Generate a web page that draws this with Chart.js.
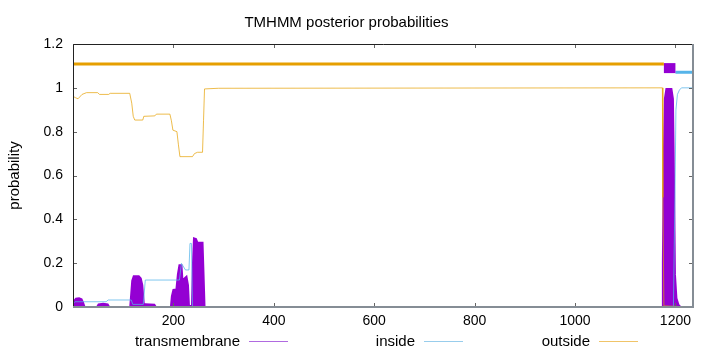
<!DOCTYPE html>
<html lang="en">
<head>
    <meta charset="UTF-8">
    <title>TMHMM posterior probabilities</title>
    <script src="https://cdn.jsdelivr.net/npm/chart.js"></script>
    <style>
        body { margin: 0; background: #fff; }
    </style>
</head>
<body>
    <canvas id="tmhmm" width="720" height="352"></canvas>

    <script>
        // posterior probabilities (residue position -> probability)
        const tmX = [1, 3, 6, 12, 17, 20, 23, 48, 51, 60, 69, 72, 114, 116, 118, 121, 131, 135, 138, 141,
                     144, 162, 165, 195, 197, 200, 206, 209, 212, 216, 218, 222, 226, 229, 231, 237, 239, 241, 245, 248,
                     258, 260, 262, 1174, 1175, 1177, 1179, 1182, 1192, 1195, 1197, 1199, 1202, 1206, 1210, 1235];
        const tmY = [0.01, 0.03, 0.038, 0.04, 0.035, 0.02, 0, 0, 0.012, 0.015, 0.012, 0, 0, 0.06, 0.12, 0.14, 0.14, 0.13, 0.1, 0.015,
                     0.012, 0.01, 0, 0, 0.05, 0.078, 0.08, 0.15, 0.19, 0.19, 0.123, 0.13, 0.138, 0.1, 0.005, 0.005, 0.2, 0.313, 0.31, 0.293,
                     0.293, 0.15, 0, 0, 0.2, 0.7, 0.95, 0.995, 0.995, 0.95, 0.6, 0.15, 0.04, 0.01, 0, 0];

        const insideX = [1, 4, 66, 70, 116, 119, 140, 144, 212, 216, 224, 231, 233, 236, 238, 1196, 1199, 1201, 1204, 1208, 1212, 1235];
        const insideY = [0.017, 0.024, 0.024, 0.032, 0.032, 0.012, 0.012, 0.123, 0.123, 0.199, 0.169, 0.169, 0.29, 0.29, 0, 0, 0.5, 0.9, 0.97, 0.99, 1, 1];

        const outsideX = [1, 5, 10, 18, 27, 49, 53, 71, 74, 113, 117, 120, 123, 139, 141, 163, 166, 193, 196, 199,
                          207, 210, 213, 238, 242, 248, 258, 260, 262, 290, 1174, 1175, 1177, 1235];
        const outsideY = [0.96, 0.955, 0.95, 0.97, 0.978, 0.978, 0.97, 0.97, 0.975, 0.975, 0.93, 0.87, 0.853, 0.853, 0.87, 0.872, 0.88, 0.88, 0.85, 0.807,
                          0.8, 0.74, 0.686, 0.686, 0.7, 0.706, 0.706, 0.85, 0.995, 0.998, 1, 0.5, 0.005, 0];

        // predicted topology bar along the top
        const topOutsideX = [1, 1177];
        const topTmX = [1177, 1200];
        const topInsideX = [1200, 1235];
        const topLevels = [1.109, 1.09, 1.071]; // outside, tm, inside

        const xTicks = [200, 400, 600, 800, 1000, 1200];
        const yTicks = [0, 0.2, 0.4, 0.6, 0.8, 1, 1.2];

        const seriesNames = ['transmembrane', 'inside', 'outside'];
        const legendColors = ['#b06ae0', '#98cdec', '#f0c468'];

        const FONT = '"Liberation Sans", Arial, sans-serif';

        const pts = (xs, ys) => xs.map((x, i) => ({ x: x, y: ys[i] }));
        const flat = (xs, y) => xs.map(x => ({ x: x, y: y }));

        // gnuplot-like frame with inward ticks
        const framePlugin = {
            id: 'frame',
            afterDraw(chart) {
                const ctx = chart.ctx;
                const a = chart.chartArea;
                const x = chart.scales.x, y = chart.scales.y;
                ctx.save();
                ctx.lineWidth = 1;
                ctx.strokeStyle = '#666';
                ctx.beginPath();
                xTicks.forEach(v => {
                    const px = Math.round(x.getPixelForValue(v)) + 0.5;
                    ctx.moveTo(px, a.bottom); ctx.lineTo(px, a.bottom - 4);
                    ctx.moveTo(px, a.top); ctx.lineTo(px, a.top + 4);
                });
                yTicks.forEach(v => {
                    const py = Math.round(y.getPixelForValue(v)) + 0.5;
                    ctx.moveTo(a.left, py); ctx.lineTo(a.left + 4, py);
                    ctx.moveTo(a.right, py); ctx.lineTo(a.right - 4, py);
                });
                ctx.stroke();

                ctx.strokeStyle = '#222';
                ctx.beginPath();
                ctx.moveTo(Math.round(a.left) + 0.5, a.bottom);
                ctx.lineTo(Math.round(a.left) + 0.5, Math.round(a.top) + 0.5);
                ctx.lineTo(a.right, Math.round(a.top) + 0.5);
                ctx.stroke();

                ctx.strokeStyle = '#858d95';
                ctx.lineWidth = 2;
                ctx.beginPath();
                ctx.moveTo(a.left, a.bottom);
                ctx.lineTo(a.right, a.bottom);
                ctx.lineTo(a.right, a.top);
                ctx.stroke();
                ctx.restore();
            }
        };

        // gnuplot-style key below the axis: label first, then the line sample
        const keyPlugin = {
            id: 'key',
            afterDraw(chart) {
                const ctx = chart.ctx;
                const col = 175, first = 240, gap = 9, len = 39, ky = 341.5;
                ctx.save();
                ctx.font = '15px ' + FONT;
                ctx.fillStyle = '#000';
                ctx.textAlign = 'right';
                ctx.textBaseline = 'middle';
                ctx.lineWidth = 1;
                seriesNames.forEach((name, i) => {
                    const tx = first + col * i;
                    ctx.fillText(name, tx, ky);
                    ctx.strokeStyle = legendColors[i];
                    ctx.beginPath();
                    ctx.moveTo(tx + gap, ky);
                    ctx.lineTo(tx + gap + len, ky);
                    ctx.stroke();
                });
                ctx.restore();
            }
        };

        Chart.defaults.font.family = FONT;

        new Chart(document.getElementById('tmhmm'), {
            type: 'line',
            data: {
                datasets: [
                    { label: 'outside', data: pts(outsideX, outsideY), borderColor: 'rgba(230,159,0,0.7)', borderWidth: 1 },
                    { label: 'inside', data: pts(insideX, insideY), borderColor: 'rgba(86,180,233,0.75)', borderWidth: 1 },
                    { label: 'transmembrane', data: pts(tmX, tmY), borderColor: '#9400d3', backgroundColor: '#9400d3', borderWidth: 2, fill: 'origin' },
                    { label: 'top outside', data: flat(topOutsideX, topLevels[0]), borderColor: '#e69f00', borderWidth: 3 },
                    { label: 'top tm', data: flat(topTmX, topLevels[1]), borderColor: '#9400d3', borderWidth: 10 },
                    { label: 'top inside', data: flat(topInsideX, topLevels[2]), borderColor: '#56b4e9', borderWidth: 3 }
                ]
            },
            options: {
                responsive: false,
                animation: false,
                elements: { point: { radius: 0 }, line: { tension: 0, borderCapStyle: 'butt' } },
                layout: { padding: { left: 0, right: 27, top: 0, bottom: 0 } },
                plugins: {
                    legend: { display: false },
                    tooltip: { enabled: false },
                    title: {
                        display: true,
                        text: 'TMHMM posterior probabilities',
                        color: '#000',
                        font: { size: 15, weight: 'normal' },
                        padding: { top: 14, bottom: 12 }
                    }
                },
                scales: {
                    x: {
                        type: 'linear',
                        min: 0,
                        max: 1235,
                        grid: { display: false, drawTicks: false },
                        border: { display: false },
                        afterBuildTicks: s => { s.ticks = xTicks.map(v => ({ value: v })); },
                        afterFit: s => { s.height = 45; },
                        ticks: { color: '#000', font: { size: 14 }, padding: 6, maxRotation: 0, autoSkip: false, callback: v => String(v) }
                    },
                    y: {
                        min: 0,
                        max: 1.2,
                        grid: { display: false, drawTicks: false },
                        border: { display: false },
                        afterBuildTicks: s => { s.ticks = yTicks.map(v => ({ value: v })); },
                        afterFit: s => { s.width = 73; },
                        title: { display: true, text: 'probability', color: '#000', font: { size: 15 }, padding: { top: 6, bottom: 0 } },
                        ticks: { color: '#000', font: { size: 14 }, padding: 10, callback: v => String(+v.toFixed(1)) }
                    }
                }
            },
            plugins: [framePlugin, keyPlugin]
        });
    </script>
</body>
</html>
